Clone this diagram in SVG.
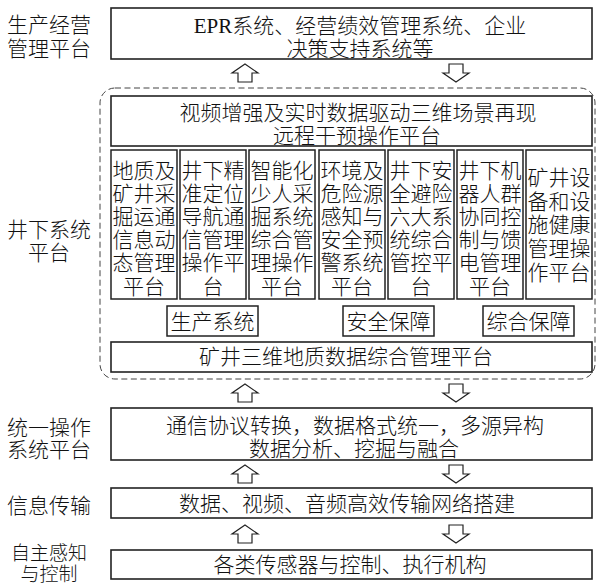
<svg xmlns="http://www.w3.org/2000/svg" xmlns:xlink="http://www.w3.org/1999/xlink" width="596" height="583" viewBox="0 0 596 583">
<style>
text{font-family:"Liberation Serif","Noto Sans CJK SC",serif;font-size:21px;font-weight:300;fill:#111;text-anchor:middle}
.sm{font-size:19px}
.box{fill:#fff;stroke:#222;stroke-width:1.6}
.col{fill:#fff;stroke:#222;stroke-width:1.5}
.lab{fill:#fff;stroke:#222;stroke-width:1.5}
.dash{fill:none;stroke:#444;stroke-width:1;stroke-dasharray:6 3.5}
.arr{fill:#fff;stroke:#222;stroke-width:1.2}
</style>
<defs>
<path id="up" d="M0,-9 L13,0 L7,0 L7,9 L-7,9 L-7,0 L-13,0 Z"/>
<path id="down" d="M0,9 L13,0 L7,0 L7,-9 L-7,-9 L-7,0 L-13,0 Z"/>
</defs>
<rect width="596" height="583" fill="#fff"/>

<g id="side-labels">
<text x="49" y="32">生产经营</text>
<text x="49" y="56">管理平台</text>
<text x="49" y="237">井下系统</text>
<text x="49" y="260">平台</text>
<text x="49" y="435">统一操作</text>
<text x="49" y="457">系统平台</text>
<text x="49" y="513">信息传输</text>
<text class="sm" x="49" y="560">自主感知</text>
<text class="sm" x="49" y="580.5">与控制</text>
</g>

<g id="underground-frame">
<rect class="dash" x="100" y="88" width="495" height="291" rx="15" ry="15"/>
</g>

<g id="node-management">
<rect class="box" x="111" y="8" width="481" height="51"/>
<text x="360" y="33">EPR系统、经营绩效管理系统、企业</text>
<text x="360" y="56">决策支持系统等</text>
</g>

<g id="node-video">
<rect class="box" x="111" y="96" width="481" height="50"/>
<text x="358" y="120">视频增强及实时数据驱动三维场景再现</text>
<text x="357" y="143">远程干预操作平台</text>
</g>

<g id="node-col1">
<rect class="col" x="111" y="150" width="66" height="149"/>
<text x="144" y="178">地质及</text><text x="144" y="201">矿井采</text><text x="144" y="224">掘运通</text><text x="144" y="247">信息动</text><text x="144" y="270">态管理</text><text x="144" y="294">平台</text>
</g>
<g id="node-col2">
<rect class="col" x="180" y="150" width="66" height="149"/>
<text x="213" y="178">井下精</text><text x="213" y="201">准定位</text><text x="213" y="224">导航通</text><text x="213" y="247">信管理</text><text x="213" y="270">操作平</text><text x="213" y="294">台</text>
</g>
<g id="node-col3">
<rect class="col" x="249" y="150" width="66" height="149"/>
<text x="282" y="178">智能化</text><text x="282" y="201">少人采</text><text x="282" y="224">掘系统</text><text x="282" y="247">综合管</text><text x="282" y="270">理操作</text><text x="282" y="294">平台</text>
</g>
<g id="node-col4">
<rect class="col" x="319" y="150" width="66" height="149"/>
<text x="352" y="178">环境及</text><text x="352" y="201">危险源</text><text x="352" y="224">感知与</text><text x="352" y="247">安全预</text><text x="352" y="270">警系统</text><text x="352" y="294">平台</text>
</g>
<g id="node-col5">
<rect class="col" x="388" y="150" width="66" height="149"/>
<text x="421" y="178">井下安</text><text x="421" y="201">全避险</text><text x="421" y="224">六大系</text><text x="421" y="247">统综合</text><text x="421" y="270">管控平</text><text x="421" y="294">台</text>
</g>
<g id="node-col6">
<rect class="col" x="457" y="150" width="66" height="149"/>
<text x="490" y="178">井下机</text><text x="490" y="201">器人群</text><text x="490" y="224">协同控</text><text x="490" y="247">制与馈</text><text x="490" y="270">电管理</text><text x="490" y="294">平台</text>
</g>
<g id="node-col7">
<rect class="col" x="526" y="150" width="66" height="149"/>
<text x="559" y="185">矿井设</text><text x="559" y="209">备和设</text><text x="559" y="232">施健康</text><text x="559" y="256">管理操</text><text x="559" y="280">作平台</text>
</g>

<g id="node-production">
<rect class="lab" x="167" y="306" width="91" height="30"/>
<text x="212.5" y="329">生产系统</text>
</g>
<g id="node-safety">
<rect class="lab" x="343" y="306" width="91" height="30"/>
<text x="388.5" y="329">安全保障</text>
</g>
<g id="node-comprehensive">
<rect class="lab" x="483" y="306" width="91" height="30"/>
<text x="528.5" y="329">综合保障</text>
</g>

<g id="node-geology">
<rect class="box" x="111" y="342" width="481" height="30"/>
<text x="346" y="364">矿井三维地质数据综合管理平台</text>
</g>

<g id="node-os">
<rect class="box" x="111" y="408" width="481" height="52"/>
<text x="355" y="433">通信协议转换，数据格式统一，多源异构</text>
<text x="354" y="456">数据分析、挖掘与融合</text>
</g>

<g id="node-transmission">
<rect class="box" x="111" y="488" width="481" height="30"/>
<text x="347" y="511">数据、视频、音频高效传输网络搭建</text>
</g>

<g id="node-sensors">
<rect class="box" x="111" y="550" width="481" height="29"/>
<text x="350" y="572">各类传感器与控制、执行机构</text>
</g>

<g id="connectors">
<use xlink:href="#up" class="arr" x="245" y="73"/>
<use xlink:href="#down" class="arr" x="456" y="73"/>
<use xlink:href="#up" class="arr" x="245" y="393"/>
<use xlink:href="#down" class="arr" x="456" y="393"/>
<use xlink:href="#up" class="arr" x="245" y="474"/>
<use xlink:href="#down" class="arr" x="456" y="474"/>
<use xlink:href="#up" class="arr" x="245" y="534"/>
<use xlink:href="#down" class="arr" x="456" y="534"/>
</g>
</svg>
